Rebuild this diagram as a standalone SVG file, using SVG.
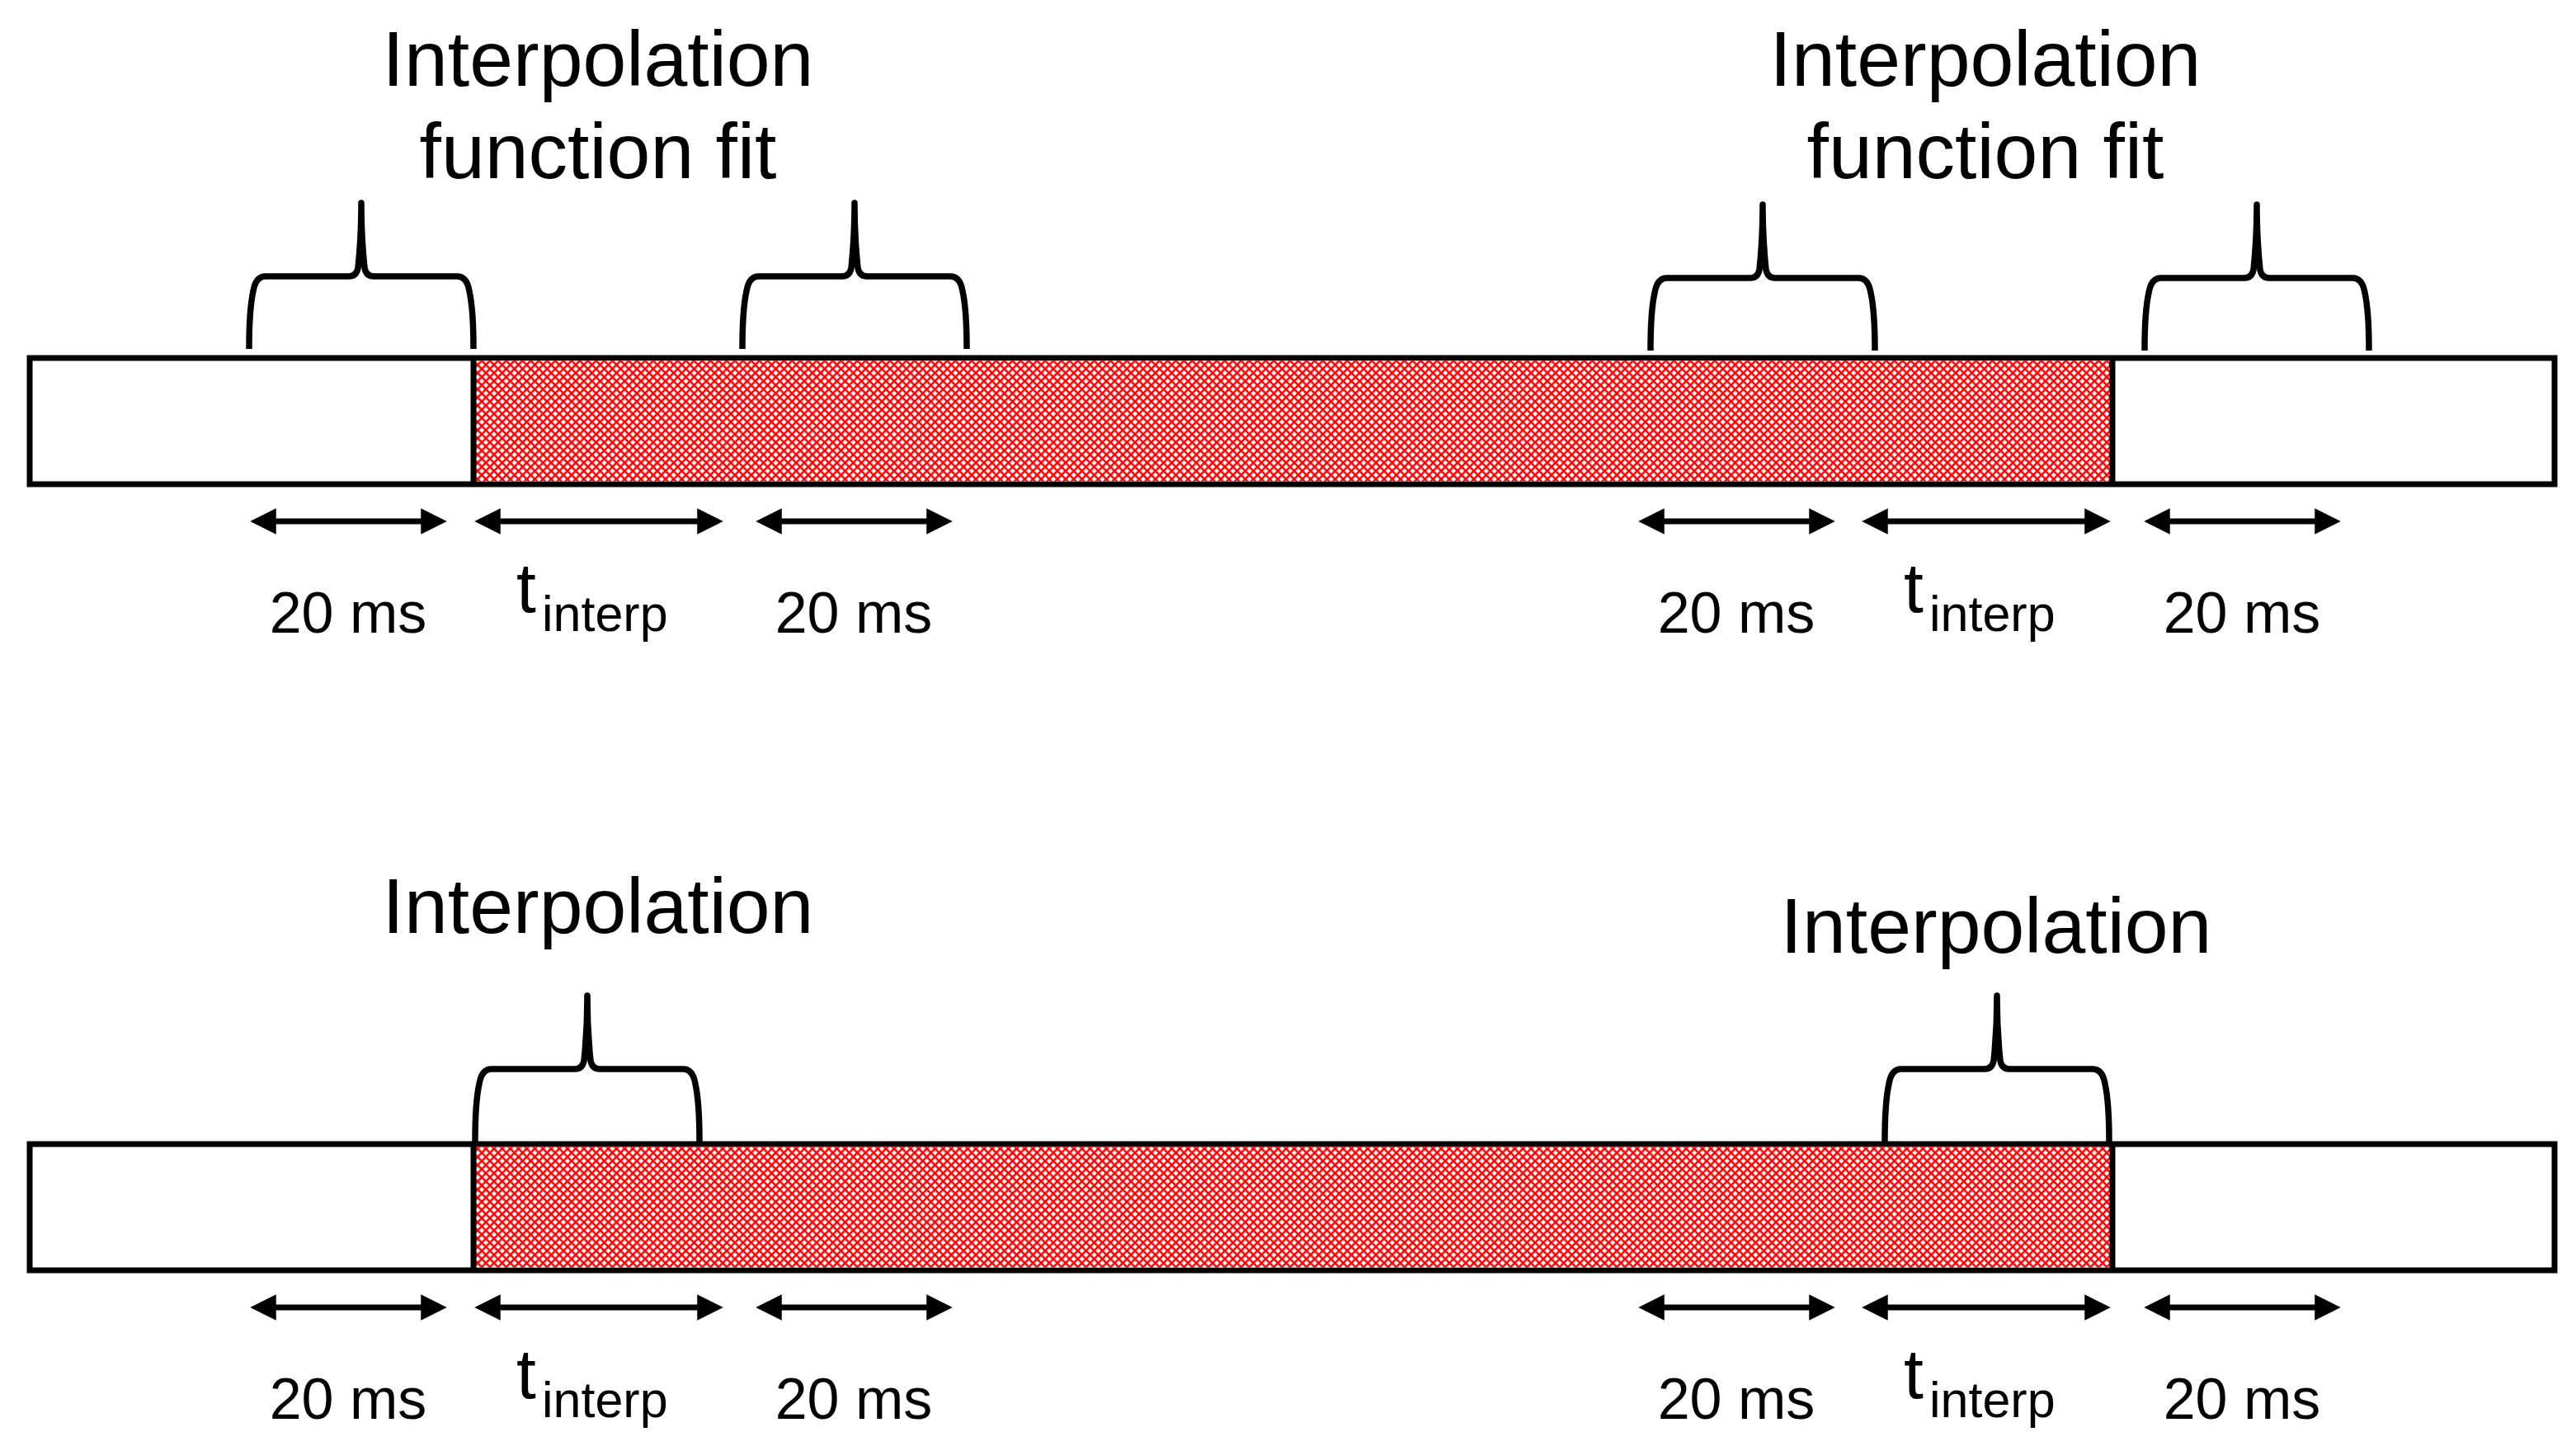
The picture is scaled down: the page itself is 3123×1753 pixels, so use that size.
<svg xmlns="http://www.w3.org/2000/svg" xmlns:xlink="http://www.w3.org/1999/xlink" width="3123" height="1753" viewBox="0 0 3123 1753">
<defs>
<style>
.box{fill:#fff;stroke:#000;stroke-width:7}
.hatch{fill:url(#redHatch);stroke:none}
.div{stroke:#000;stroke-width:7}
.brace{fill:none;stroke:#000;stroke-width:7.5;stroke-linejoin:round}
.arr{stroke:#000;stroke-width:7;fill:none;marker-start:url(#ah);marker-end:url(#ah)}
.big{font-family:"Liberation Sans",Arial,sans-serif;font-size:95px;fill:#000;text-anchor:middle}
.lab{font-family:"Liberation Sans",Arial,sans-serif;font-size:70px;fill:#000;text-anchor:middle}
.t{font-family:"Liberation Sans",Arial,sans-serif;font-size:86px;fill:#000}
.sub{font-family:"Liberation Sans",Arial,sans-serif;font-size:61px;fill:#000}
</style>
<pattern id="redHatch" patternUnits="userSpaceOnUse" width="7" height="7" patternTransform="rotate(45)">
<rect width="7" height="7" fill="#fff"/>
<rect width="7" height="2.5" fill="#ff0000"/>
<rect width="2.5" height="7" fill="#ff0000"/>
</pattern>
<marker id="ah" viewBox="0 0 10 10" refX="5" refY="5" markerWidth="4.5" markerHeight="4.5" orient="auto-start-reverse" markerUnits="strokeWidth">
<path d="M0,0 L10,5 L0,10 z" fill="#000"/>
</marker>
<path id="brace" class="brace" d="M-136,0 C-136,-27 -135,-52 -131,-70 Q-128,-88 -116,-88 L-15,-88 Q-6,-88 -4,-98 C-2,-117 0,-142 0,-177 C0,-142 2,-117 4,-98 Q6,-88 15,-88 L116,-88 Q128,-88 131,-70 C135,-52 136,-27 136,0"/>
</defs>
<rect width="3123" height="1753" fill="#fff"/>

<g id="timeline-fit">
<rect class="box" x="36" y="434" width="3061" height="153"/>
<rect class="hatch" x="574" y="437.5" width="1987" height="146"/>
<line class="div" x1="574" y1="434" x2="574" y2="587"/>
<line class="div" x1="2561" y1="434" x2="2561" y2="587"/>
</g>

<g id="timeline-interp">
<rect class="box" x="36" y="1387" width="3061" height="153"/>
<rect class="hatch" x="574" y="1390.5" width="1987" height="146"/>
<line class="div" x1="574" y1="1387" x2="574" y2="1540"/>
<line class="div" x1="2561" y1="1387" x2="2561" y2="1540"/>
</g>

<g id="braces">
<use xlink:href="#brace" href="#brace" transform="translate(438,423)"/>
<use xlink:href="#brace" href="#brace" transform="translate(1036,423)"/>
<use xlink:href="#brace" href="#brace" transform="translate(2137,425)"/>
<use xlink:href="#brace" href="#brace" transform="translate(2736,425)"/>
<use xlink:href="#brace" href="#brace" transform="translate(712,1384)"/>
<use xlink:href="#brace" href="#brace" transform="translate(2421,1384)"/>
</g>

<g id="labels-top">
<text class="big" x="725" y="104">Interpolation</text>
<text class="big" x="725" y="216">function fit</text>
<text class="big" x="2407" y="104">Interpolation</text>
<text class="big" x="2407" y="216">function fit</text>
</g>
<g id="labels-bottom">
<text class="big" x="725" y="1131">Interpolation</text>
<text class="big" x="2420" y="1155">Interpolation</text>
</g>

<g id="connectors">
<line class="arr" x1="319" y1="632" x2="526" y2="632"/>
<line class="arr" x1="591" y1="632" x2="861" y2="632"/>
<line class="arr" x1="932" y1="632" x2="1139" y2="632"/>
<line class="arr" x1="2002" y1="632" x2="2209" y2="632"/>
<line class="arr" x1="2273" y1="632" x2="2543" y2="632"/>
<line class="arr" x1="2615" y1="632" x2="2822" y2="632"/>
<line class="arr" x1="319" y1="1585" x2="526" y2="1585"/>
<line class="arr" x1="591" y1="1585" x2="861" y2="1585"/>
<line class="arr" x1="932" y1="1585" x2="1139" y2="1585"/>
<line class="arr" x1="2002" y1="1585" x2="2209" y2="1585"/>
<line class="arr" x1="2273" y1="1585" x2="2543" y2="1585"/>
<line class="arr" x1="2615" y1="1585" x2="2822" y2="1585"/>
</g>

<g id="dim-labels-top">
<text class="lab" x="422" y="767">20 ms</text>
<text x="626" y="742"><tspan class="t">t</tspan><tspan class="sub" x="657" y="765">interp</tspan></text>
<text class="lab" x="1035" y="767">20 ms</text>
<text class="lab" x="2105" y="767">20 ms</text>
<text x="2308" y="742"><tspan class="t">t</tspan><tspan class="sub" x="2339" y="765">interp</tspan></text>
<text class="lab" x="2718" y="767">20 ms</text>
</g>
<g id="dim-labels-bottom">
<text class="lab" x="422" y="1720">20 ms</text>
<text x="626" y="1695"><tspan class="t">t</tspan><tspan class="sub" x="657" y="1718">interp</tspan></text>
<text class="lab" x="1035" y="1720">20 ms</text>
<text class="lab" x="2105" y="1720">20 ms</text>
<text x="2308" y="1695"><tspan class="t">t</tspan><tspan class="sub" x="2339" y="1718">interp</tspan></text>
<text class="lab" x="2718" y="1720">20 ms</text>
</g>
</svg>
